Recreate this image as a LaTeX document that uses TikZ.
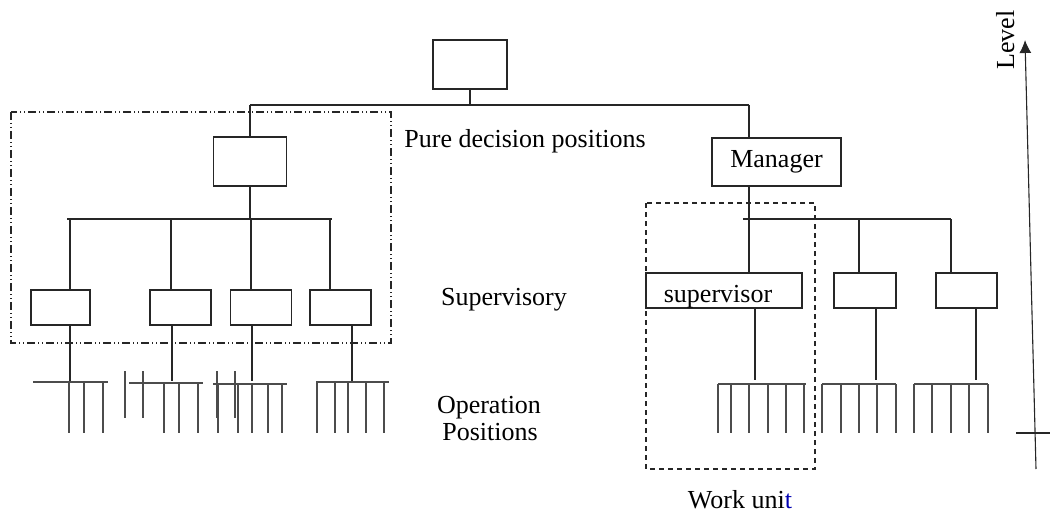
\documentclass[tikz,border=0pt]{standalone}
\usepackage{fontspec}
\setmainfont{Liberation Serif}
\usetikzlibrary{arrows.meta}

\tikzset{
  posbox/.style={draw=black!85, line width=1.1pt, inner sep=0pt, minimum height=35pt},
  link/.style={draw=black!85, line width=1.1pt},
  tooth/.style={draw=black!70, line width=1.1pt},
  txt/.style={font=\fontsize{26}{29}\selectfont, inner sep=0pt, anchor=base},
  decframe/.style={draw=black!85, line width=1.1pt, dash pattern=on 8pt off 3pt on 1pt off 3pt on 1pt off 3pt},
  unitframe/.style={draw=black!85, line width=1.1pt, dash pattern=on 5pt off 4pt}
}

\begin{document}
\begin{tikzpicture}[x=1pt,y=-1pt]
			\useasboundingbox (0,0) rectangle (1050,516);
			
			%%boxes
			\node[posbox, minimum width=74pt, minimum height=49pt] (top) at (470,64.5) {};
			\node[posbox, minimum width=73pt, minimum height=49pt] (dec) at (250,161.5) {};
			\node[posbox, minimum width=129pt, minimum height=48pt, font=\fontsize{26}{29}\selectfont] (mgr) at (776.5,162) {Manager};
			\foreach \n / \x / \w in {s1/60.5/59, s2/180.5/61, s3/261/61, s4/340.5/61}
				\node[posbox, minimum width=\w pt] (\n) at (\x,307.5) {};
			\node[posbox, minimum width=156pt] (sv) at (724,290.5) {};
			\node[posbox, minimum width=62pt] (r2) at (865,290.5) {};
			\node[posbox, minimum width=61pt] (r3) at (966.5,290.5) {};
			\node[txt] (svlabel) at (718,302) {supervisor};
			
			%%frames
			\draw[decframe] (11,112) rectangle (391,343);
			\draw[unitframe] (646,203) rectangle (815,469);
			
			%%first level
			\coordinate (barL) at (250,105);
			\coordinate (barR) at (749,105);
			\draw[link] (top.south) -- (top.south |- barL);
			\draw[link] (barL) -- (barR);
			\draw[link] (barL) -- (dec.north);
			\draw[link] (barR) -- (barR |- mgr.north);
			
			%%left branch
			\draw[link] (67,219) -- (332,219);
			\draw[link] (dec.south) -- (dec.south |- 0,219);
			\foreach \x / \n in {70/s1, 171/s2, 251/s3, 330/s4}
				\draw[link] (\x,219) -- (\x,0 |- \n.north);
			
			%%right branch
			\draw[link] (743,219) -- (951,219);
			\draw[link] (barR |- mgr.south) -- (barR |- sv.north);
			\foreach \x / \n in {859/r2, 951/r3}
				\draw[link] (\x,219) -- (\x,0 |- \n.north);
			
			%%down to the combs
			\foreach \x / \n in {70/s1, 172/s2, 252/s3, 352/s4}
				\draw[link] (\x,0 |- \n.south) -- (\x,381);
			\foreach \x / \n in {755/sv, 876/r2, 976/r3}
				\draw[link] (\x,0 |- \n.south) -- (\x,380);
			
			%%combs
			\foreach \a / \b / \y / \t in {33/108/382/{69,84,103}, 129/203/383/{164,179,198}, 213/287/384/{218,238,252,268,282}, 316/389/382/{317,335,348,366,384}, 718/806/384/{718,731,749,768,786,804}, 822/896/384/{822,841,859,877,896}, 914/988/384/{914,932,951,969,988}}
			{
				\draw[tooth] (\a,\y) -- (\b,\y);
				\foreach \x in \t
					\draw[tooth] (\x,\y) -- (\x,433);
			}
			\foreach \x in {125,143,217,235}
				\draw[tooth] (\x,371) -- (\x,418);
			
			%%level axis
			\coordinate (lvlA) at (1036,469);
			\coordinate (lvlB) at (1025,40);
			\draw[link, -{Latex[length=13pt,width=12pt]}] (lvlA) -- (lvlB);
			\draw[link] (1016,433) -- (1050,433);
			\node[txt, rotate=90] (lvl) at (1014,40) {Level};
			
			%%texts
			\node[txt] (puredec) at (525,148) {Pure decision positions};
			\node[txt] (supy) at (504,305) {Supervisory};
			\node[txt] (oper) at (489,413) {Operation};
			\node[txt] (posn) at (490,440) {Positions};
			\node[txt] (wunit) at (740,508) {Work uni\textcolor{blue!70!black}{t}};
		\end{tikzpicture}
\end{document}
